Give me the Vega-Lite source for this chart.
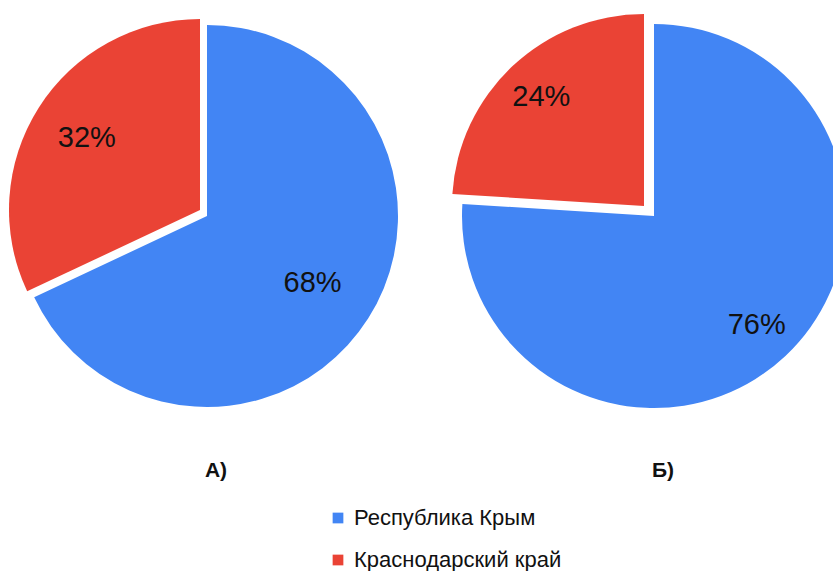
{
  "$schema": "https://vega.github.io/schema/vega-lite/v6.json",
  "padding": 0,
  "background": "white",
  "datasets": {
    "shares": [
      {"panel": "А", "region": "Республика Крым", "share": 0.68},
      {"panel": "А", "region": "Краснодарский край", "share": 0.32},
      {"panel": "Б", "region": "Республика Крым", "share": 0.76},
      {"panel": "Б", "region": "Краснодарский край", "share": 0.24}
    ]
  },
  "data": {"name": "shares"},
  "hconcat": [
    {
      "width": 414,
      "height": 432,
      "title": {"text": "А)", "orient": "bottom", "offset": 28, "dx": 9},
      "transform": [{"filter": "datum.panel === 'А'"}],
      "layer": [
        {
          "mark": {"type": "arc", "outerRadius": 191},
          "encoding": {
            "theta": {"field": "share", "type": "quantitative", "stack": true},
            "order": {"field": "region", "sort": "descending"},
            "color": {"field": "region", "type": "nominal", "scale": {"domain": ["Республика Крым", "Краснодарский край"], "range": ["#4285F4", "#EA4335"]}, "legend": {"title": null}},
            "opacity": {"condition": {"test": "datum.region === 'Республика Крым'", "value": 1}, "value": 0}
          }
        },
        {
          "mark": {"type": "arc", "outerRadius": 191, "xOffset": -7, "yOffset": -6},
          "encoding": {
            "theta": {"field": "share", "type": "quantitative", "stack": true},
            "order": {"field": "region", "sort": "descending"},
            "color": {"field": "region", "type": "nominal"},
            "opacity": {"condition": {"test": "datum.region === 'Краснодарский край'", "value": 1}, "value": 0}
          }
        },
        {
          "mark": {"type": "text", "radius": 125, "fontSize": 29, "font": "Liberation Sans", "color": "#111"},
          "encoding": {
            "theta": {"field": "share", "type": "quantitative", "stack": true},
            "order": {"field": "region", "sort": "descending"},
            "detail": {"field": "region", "type": "nominal"},
            "text": {"field": "share", "type": "quantitative", "format": ".0%"},
            "opacity": {"condition": {"test": "datum.region === 'Республика Крым'", "value": 1}, "value": 0}
          }
        },
        {
          "mark": {"type": "text", "radius": 134, "fontSize": 29, "font": "Liberation Sans", "color": "#111", "xOffset": -7, "yOffset": -6},
          "encoding": {
            "theta": {"field": "share", "type": "quantitative", "stack": true},
            "order": {"field": "region", "sort": "descending"},
            "detail": {"field": "region", "type": "nominal"},
            "text": {"field": "share", "type": "quantitative", "format": ".0%"},
            "opacity": {"condition": {"test": "datum.region === 'Краснодарский край'", "value": 1}, "value": 0}
          }
        }
      ]
    },
    {
      "width": 414,
      "height": 432,
      "title": {"text": "Б)", "orient": "bottom", "offset": 28, "dx": 9},
      "transform": [{"filter": "datum.panel === 'Б'"}],
      "layer": [
        {
          "mark": {"type": "arc", "outerRadius": 192},
          "encoding": {
            "theta": {"field": "share", "type": "quantitative", "stack": true},
            "order": {"field": "region", "sort": "descending"},
            "color": {"field": "region", "type": "nominal"},
            "opacity": {"condition": {"test": "datum.region === 'Республика Крым'", "value": 1}, "value": 0}
          }
        },
        {
          "mark": {"type": "arc", "outerRadius": 192, "xOffset": -10, "yOffset": -10},
          "encoding": {
            "theta": {"field": "share", "type": "quantitative", "stack": true},
            "order": {"field": "region", "sort": "descending"},
            "color": {"field": "region", "type": "nominal"},
            "opacity": {"condition": {"test": "datum.region === 'Краснодарский край'", "value": 1}, "value": 0}
          }
        },
        {
          "mark": {"type": "text", "radius": 150, "fontSize": 29, "font": "Liberation Sans", "color": "#111"},
          "encoding": {
            "theta": {"field": "share", "type": "quantitative", "stack": true},
            "order": {"field": "region", "sort": "descending"},
            "detail": {"field": "region", "type": "nominal"},
            "text": {"field": "share", "type": "quantitative", "format": ".0%"},
            "opacity": {"condition": {"test": "datum.region === 'Республика Крым'", "value": 1}, "value": 0}
          }
        },
        {
          "mark": {"type": "text", "radius": 150, "fontSize": 29, "font": "Liberation Sans", "color": "#111", "xOffset": -10, "yOffset": -10},
          "encoding": {
            "theta": {"field": "share", "type": "quantitative", "stack": true},
            "order": {"field": "region", "sort": "descending"},
            "detail": {"field": "region", "type": "nominal"},
            "text": {"field": "share", "type": "quantitative", "format": ".0%"},
            "opacity": {"condition": {"test": "datum.region === 'Краснодарский край'", "value": 1}, "value": 0}
          }
        }
      ]
    }
  ],
  "resolve": {"scale": {"color": "shared"}, "legend": {"color": "shared"}},
  "config": {
    "view": {"stroke": null},
    "font": "Liberation Sans",
    "concat": {"spacing": 33},
    "title": {"fontSize": 21, "fontWeight": "bold", "color": "#111", "font": "Liberation Sans"},
    "legend": {
      "orient": "none",
      "legendX": 327,
      "legendY": 507,
      "symbolType": "square",
      "symbolSize": 115,
      "symbolStrokeWidth": 0,
      "symbolOpacity": 1,
      "labelFontSize": 22,
      "labelFont": "Liberation Sans",
      "labelColor": "#111",
      "labelOffset": 5,
      "rowPadding": 20,
      "labelLimit": 400
    }
  }
}
